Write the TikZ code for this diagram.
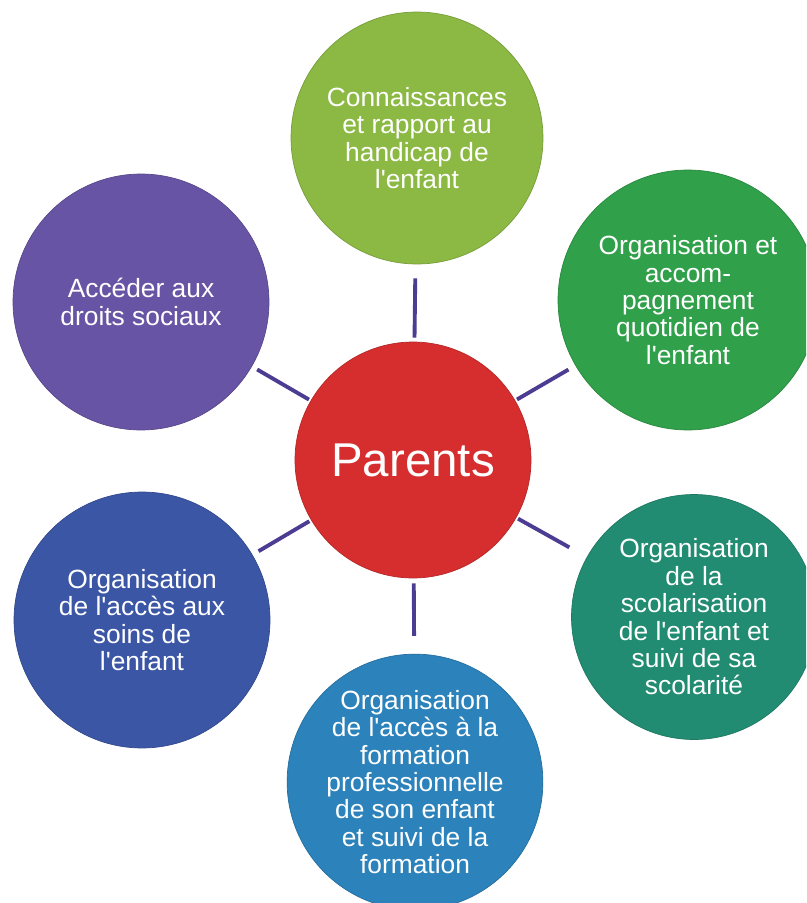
\documentclass[tikz,border=0pt]{standalone}
\usepackage{fontspec}
\setmainfont{Liberation Sans}[Ligatures=TeXOff]
\usetikzlibrary{positioning}

\definecolor{connaisGreen}{RGB}{140,185,68}
\definecolor{quotidGreen}{RGB}{48,160,74}
\definecolor{scolaTeal}{RGB}{34,140,114}
\definecolor{formBlue}{RGB}{44,130,186}
\definecolor{soinsBlue}{RGB}{60,86,166}
\definecolor{droitsPurple}{RGB}{104,84,164}
\definecolor{parentsRed}{RGB}{214,46,46}
\definecolor{spokeColor}{RGB}{76,60,146}

\begin{document}
\begin{tikzpicture}[x=0.02cm,y=-0.02cm,
    bubble/.style={circle,minimum size=5.04cm,inner sep=0pt,text=white,
        align=center,font=\fontsize{15}{15.6}\selectfont},
    spoke/.style={draw=spokeColor,line width=2.2pt,shorten <=0.04cm}]
        \clip (0,0) rectangle (806,903);
        \fill[white] (0,0) rectangle (806,903);
        % Centre
        \node[circle,minimum size=4.72cm,fill=parentsRed,draw=parentsRed!85!black,
            text=white,font=\fontsize{27}{30}\selectfont] (parents) at (413,460) {Parents};
        % Outer circles
        \node[bubble,fill=connaisGreen,draw=connaisGreen!85!black] (connais) at (417,138)
            {Connaissances\\et rapport au\\handicap de\\l'enfant};
        \node[bubble,fill=quotidGreen,draw=quotidGreen!85!black,minimum size=5.2cm] (quotid) at (688,300)
            {Organisation et\\accom-\\pagnement\\quotidien de\\l'enfant};
        \node[bubble,fill=scolaTeal,draw=scolaTeal!85!black,minimum size=4.9cm] (scola) at (694,617)
            {Organisation\\de la\\scolarisation\\de l'enfant et\\suivi de sa\\scolarité};
        \node[bubble,fill=formBlue,draw=formBlue!85!black] (form) at (415,782)
            {Organisation\\de l'accès à la\\formation\\professionnelle\\de son enfant\\et suivi de la\\formation};
        \node[bubble,fill=soinsBlue,draw=soinsBlue!85!black,minimum size=5.12cm] (soins) at (142,620)
            {Organisation\\de l'accès aux\\soins de\\l'enfant};
        \node[bubble,fill=droitsPurple,draw=droitsPurple!85!black,minimum size=5.12cm] (droits) at (141,302)
            {Accéder aux\\droits sociaux};
        % Spokes
        \draw[spoke,shorten <=0.08cm,shorten >=0.28cm] (parents) -- (connais);
        \draw[spoke,shorten >=0.16cm] (parents) -- (quotid);
        \draw[spoke,shorten >=0.4cm] (parents) -- (scola);
        \draw[spoke,shorten <=0.1cm,shorten >=0.36cm] (parents) -- (form);
        \draw[spoke,shorten >=0.14cm] (parents) -- (soins);
        \draw[spoke,shorten >=0.12cm] (parents) -- (droits);
\end{tikzpicture}
\end{document}
